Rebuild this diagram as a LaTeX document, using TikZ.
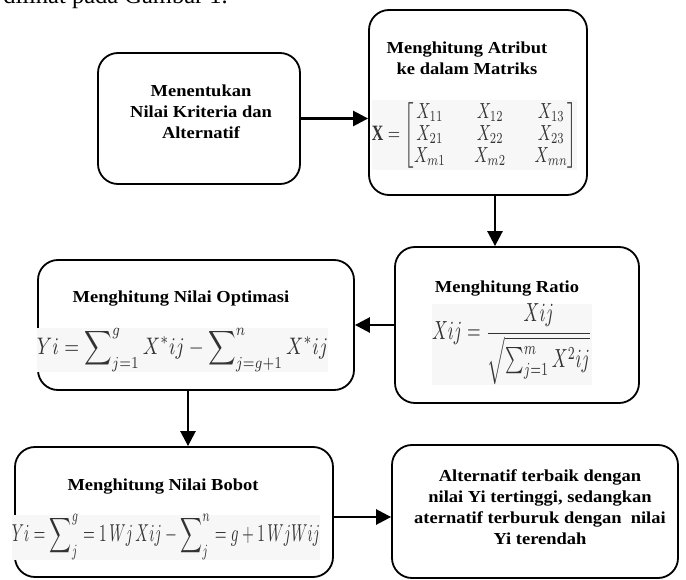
\documentclass[tikz,border=0pt]{standalone}
\usepackage{fontspec}
\usepackage{amsmath}
\usepackage{graphicx}
\setmainfont{Liberation Serif}
\newfontfamily\boxfont[FakeStretch=1.1]{Liberation Serif}
\usetikzlibrary{arrows.meta}
\tikzset{
  box/.style={draw, line width=1.8pt, rounded corners=20pt, fill=white, inner sep=0pt},
  ttl/.style={font=\boxfont\bfseries\fontsize{16.8}{21}\selectfont, align=center, inner sep=0pt},
  frm/.style={inner sep=0pt, text=black!80, fill=black!3},
  arr/.style={line width=2.6pt, -{Triangle[length=15pt,width=15pt]}},
}
\begin{document}
\begin{tikzpicture}[x=1pt,y=-1pt]
\useasboundingbox (0,0) rectangle (686,580);
\begin{scope}
\clip (0,0) rectangle (686,580);
\node[anchor=base east, inner sep=0pt, font=\fontsize{24.5}{28}\selectfont] (top) at (228,4) {dilihat pada Gambar 1.};
\end{scope}
% boxes
\node[box, minimum width=202pt, minimum height=131pt] (b1) at (199,118.5) {};
\node[box, minimum width=218pt, minimum height=185pt] (b2) at (478,102.5) {};
\node[box, minimum width=244pt, minimum height=156pt] (b3) at (517,325) {};
\node[box, minimum width=316pt, minimum height=130pt] (b4) at (196,325) {};
\node[box, minimum width=318pt, minimum height=130pt] (b5) at (174,512) {};
\node[box, minimum width=286pt, minimum height=133pt] (b6) at (535,511.5) {};
% titles
\node[ttl] (t1) at (201,112) {Menentukan\\Nilai Kriteria dan\\Alternatif};
\node[ttl] (t2) at (467,58) {Menghitung Atribut\\ke dalam Matriks};
\node[ttl] (t3) at (507,289) {Menghitung Ratio};
\node[ttl] (t4) at (181,299) {Menghitung Nilai Optimasi};
\node[ttl] (t5) at (163,487) {Menghitung Nilai Bobot};
\node[ttl] (t6) at (540,507) {Alternatif terbaik dengan\\nilai Yi tertinggi, sedangkan\\aternatif terburuk dengan\ \ nilai\\Yi terendah};
% formulas
\node[frm] (f2) at (474.5,135) {\resizebox*{205pt}{70pt}{\setlength{\arraycolsep}{9pt}$\mathbf{X}=\begin{bmatrix} X_{11} & X_{12} & X_{13}\\[-2pt] X_{21} & X_{22} & X_{23}\\[-2pt] X_{m1} & X_{m2} & X_{mn}\end{bmatrix}$}};
\node[frm] (f3) at (512,344.5) {\resizebox*{160pt}{81pt}{$Xij=\dfrac{Xij}{\sqrt{\sum_{j=1}^{m}X^2ij}}$}};
\node[frm] (f4) at (182.5,350) {\resizebox*{291pt}{44pt}{$Yi=\displaystyle\sum\nolimits_{j=1}^{g}X^{*}ij-\sum\nolimits_{j=g+1}^{n}X^{*}ij$}};
\node[frm] (f5) at (166,537) {\resizebox*{308pt}{45pt}{$Yi=\displaystyle\sum\nolimits_{j}^{g}=1\,Wj\,Xij-\sum\nolimits_{j}^{n}=g+1\,WjWij$}};
% arrows
\draw[arr] (b1.east) -- (b1.east -| b2.west);
\draw[arr] ([xshift=17pt]b2.south) -- ([xshift=17pt]b2.south |- b3.north);
\draw[arr] (b3.west) -- (b4.east);
\draw[arr] ([xshift=-8pt]b4.south) -- ([xshift=-8pt]b4.south |- b5.north);
\draw[arr] ([yshift=-5pt]b5.east) -- ([yshift=-5pt]b5.east -| b6.west);
\end{tikzpicture}
\end{document}
